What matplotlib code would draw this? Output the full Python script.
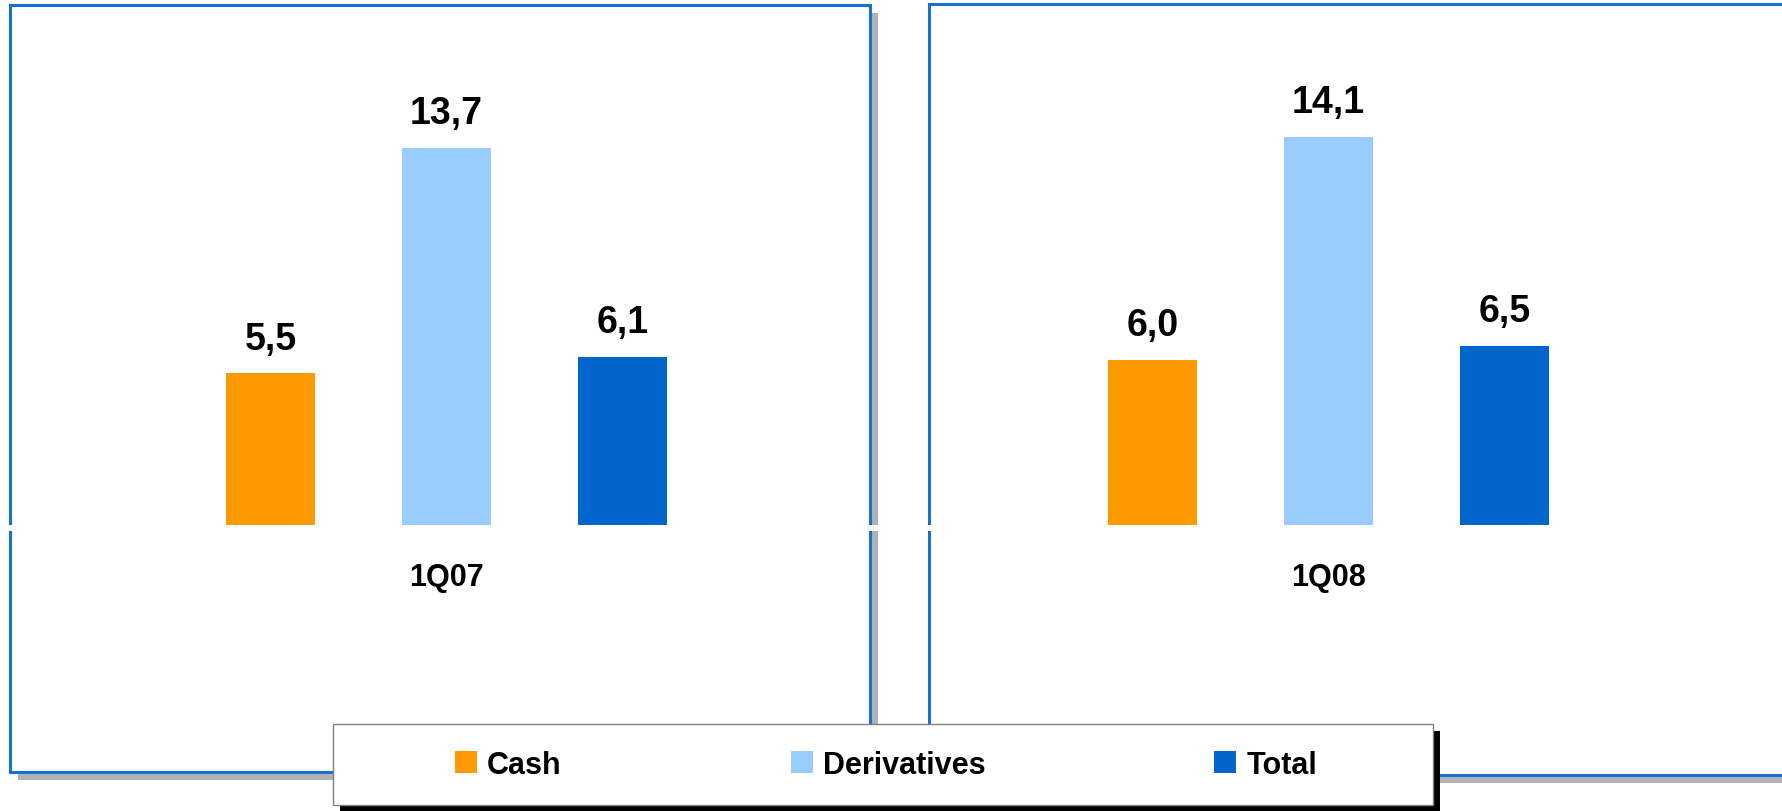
import matplotlib
matplotlib.use("Agg")
import matplotlib.pyplot as plt
from matplotlib.patches import Rectangle
from matplotlib.transforms import offset_copy

plt.rcParams['font.family'] = ['Liberation Sans', 'DejaVu Sans']

# ---- data ----
series = ["Cash", "Derivatives", "Total"]
colors = ["#FF9900", "#99CCFF", "#0066CC"]
periods = ["1Q07", "1Q08"]
values_1q07 = [5.5, 13.7, 6.1]
values_1q08 = [6.0, 14.1, 6.5]
panel_values = [values_1q07, values_1q08]

W, H = 1782, 812
fig = plt.figure(figsize=(W / 100, H / 100), dpi=100)
fig.patch.set_facecolor("white")


def fx(px):
    return px / W


def fy(py):
    return 1 - py / H


def frect(x0, y0, x1, y1, **kw):
    # pixel box (top-left origin) -> figure-fraction rectangle
    r = Rectangle((fx(x0), fy(y1)), fx(x1) - fx(x0), (y1 - y0) / H,
                  transform=fig.transFigure, **kw)
    fig.patches.append(r)
    return r


BLUE_EDGE = "#1A6FD6"
SHADOW = "#B2B2B2"

# panels: (left, top, right, bottom) in pixels
panels = [(10, 6, 870, 773), (929, 5, 1800, 776)]
for (x0, y0, x1, y1) in panels:
    frect(x0 + 8, y0 + 8, x1 + 8, y1 + 8, facecolor=SHADOW, edgecolor="none", zorder=-4)
    frect(x0, y0, x1, y1, facecolor="white", edgecolor=BLUE_EDGE, linewidth=2.2, zorder=-3)

baseline = 526
# white break line at baseline
frect(0, baseline, W, baseline + 6, facecolor="white", edgecolor="none", zorder=-1)

px_per_unit = 27.55
spacing = 176
bar_w_px = 89
middle_centers = [446.5, 1328.5]
axes_x = [(10, 870), (929, W)]
top_px = 5

for k in range(2):
    xa0, xa1 = axes_x[k]
    ax = fig.add_axes([fx(xa0), fy(baseline), fx(xa1) - fx(xa0), (baseline - top_px) / H])
    ax.set_zorder(0)
    ax.patch.set_visible(False)
    for s in ax.spines.values():
        s.set_visible(False)
    ax.set_xticks([])
    ax.set_yticks([])
    c = middle_centers[k]
    ax.set_xlim(1 - (c - xa0) / spacing, 1 + (xa1 - c) / spacing)
    ax.set_ylim(0, (baseline - top_px) / px_per_unit)
    xs = list(range(len(series)))
    vals = panel_values[k]
    ax.bar(xs, vals, width=bar_w_px / spacing, color=colors)
    lab_tr = offset_copy(ax.transData, fig=fig, x=0, y=24.5, units="dots")
    for xi, v in zip(xs, vals):
        ax.text(xi, v, f"{v:.1f}".replace(".", ","), transform=lab_tr,
                ha="center", va="baseline", fontsize=27, fontweight="bold")
    cat_tr = offset_copy(ax.get_xaxis_transform(), fig=fig, x=0, y=-60, units="dots")
    ax.text(1, 0, periods[k], transform=cat_tr, ha="center", va="baseline",
            fontsize=22, fontweight="bold")

# legend frame
lx0, ly0, lx1, ly1 = 333, 725, 1433, 806
frect(lx0 + 7, ly0 + 7, lx1 + 7, ly1 + 7, facecolor="black", edgecolor="none", zorder=2)
frect(lx0, ly0, lx1, ly1, facecolor="white", edgecolor="#808080", linewidth=1.0, zorder=3)

handles = [Rectangle((0, 0), 1, 1, facecolor=c, edgecolor="none") for c in colors]
leg = fig.legend(handles, series, loc="center", bbox_to_anchor=(fx(886), fy(766)),
                 ncol=3, frameon=False, prop={"size": 22, "weight": "bold"},
                 handlelength=0.72, handleheight=0.72, handletextpad=0.33,
                 columnspacing=7.5, borderpad=0)
leg.set_zorder(5)

fig.savefig("out.png", dpi=100, facecolor="white")
